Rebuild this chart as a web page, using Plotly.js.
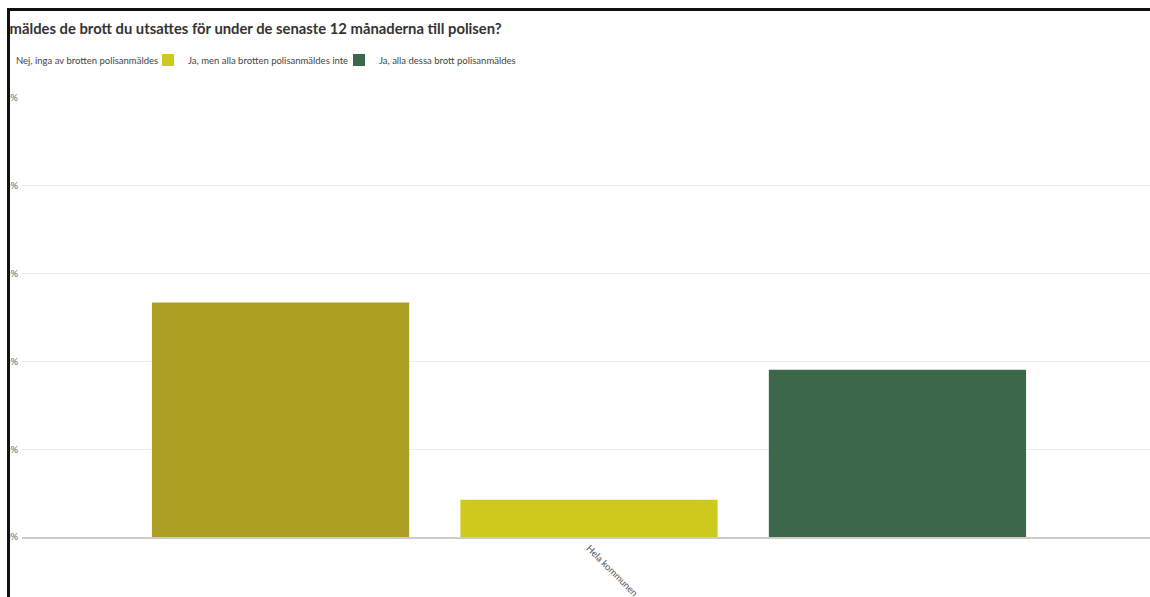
<!DOCTYPE html>
<html>
<head>
<meta charset="utf-8">
<script src="https://cdn.plot.ly/plotly-3.0.1.min.js"></script>
<style>
  html, body { margin: 0; padding: 0; background: #fff; width: 1150px; height: 597px; overflow: hidden; }
  #frame { position: absolute; left: 7px; top: 8px; width: 1143px; height: 589px;
           border-left: 3px solid #111; border-top: 3px solid #111; overflow: hidden; background: #fff; }
  #chart { position: absolute; left: -60px; top: 0; width: 1210px; height: 586px; }
</style>
</head>
<body>
<div id="frame"><div id="chart"></div></div>
<script>
const titleText = "Polisanmäldes de brott du utsattes för under de senaste 12 månaderna till polisen?";
const categories = ["Hela kommunen"];
const seriesNames = [
  "Nej, inga av brotten polisanmäldes",
  "Ja, men alla brotten polisanmäldes inte",
  "Ja, alla dessa brott polisanmäldes"
];
const seriesValues = [
  [53.4],
  [8.5],
  [38.1]
];
const seriesColors = ["#ab9e22", "#cec91d", "#3d674b"];
const yTickValues = [0, 20, 40, 60, 80, 100];
const yTickLabels = ["0%", "20%", "40%", "60%", "80%", "100%"];

const legendWidths = [127, 146, 160];
const FONT = "Lato, 'Segoe UI', sans-serif";

const traces = seriesNames.map((name, i) => ({
  type: "bar",
  name: name,
  x: categories,
  y: seriesValues[i],
  marker: { color: seriesColors[i], line: { width: 0 } },
  legendwidth: legendWidths[i],
  hoverinfo: "none"
}));

const W = 1210, H = 586;
const layout = {
  width: W, height: H,
  margin: { l: 72, r: 4, t: 87, b: 60 },
  paper_bgcolor: "#ffffff",
  plot_bgcolor: "#ffffff",
  font: { family: FONT, color: "#555" },
  title: {
    text: "<b>" + titleText + "</b>",
    font: { family: FONT, size: 14.8, color: "#333" },
    xref: "container", x: 12.5 / W, xanchor: "left",
    yref: "container", y: 1 - 17.5 / H, yanchor: "middle"
  },
  showlegend: true,
  legend: {
    orientation: "h",
    xref: "container", x: 26 / W, xanchor: "left",
    yref: "container", y: 1 - 49 / H, yanchor: "middle",
    font: { family: FONT, size: 9.5, color: "#444" },
    itemwidth: 30,
    traceorder: "normal",
    bgcolor: "rgba(0,0,0,0)"
  },
  barmode: "group",
  bargap: 0.184,
  bargroupgap: 0.166,
  xaxis: {
    type: "category",
    range: [-0.5, 0.5],
    tickangle: 45,
    tickfont: { family: FONT, size: 9.5, color: "#555" },
    showgrid: false,
    showline: true,
    linecolor: "#cccccc",
    linewidth: 2,
    ticks: "",
    zeroline: false,
    fixedrange: true
  },
  yaxis: {
    range: [0, 100],
    tickvals: yTickValues,
    ticktext: yTickLabels,
    tickfont: { family: FONT, size: 9.5, color: "#666" },
    showgrid: true,
    gridcolor: "#ececf2",
    gridwidth: 1,
    zeroline: false,
    showline: false,
    ticks: "",
    ticklabelstandoff: 3,
    fixedrange: true
  }
};

Plotly.newPlot("chart", traces, layout, { displayModeBar: false, staticPlot: true });
</script>
</body>
</html>
